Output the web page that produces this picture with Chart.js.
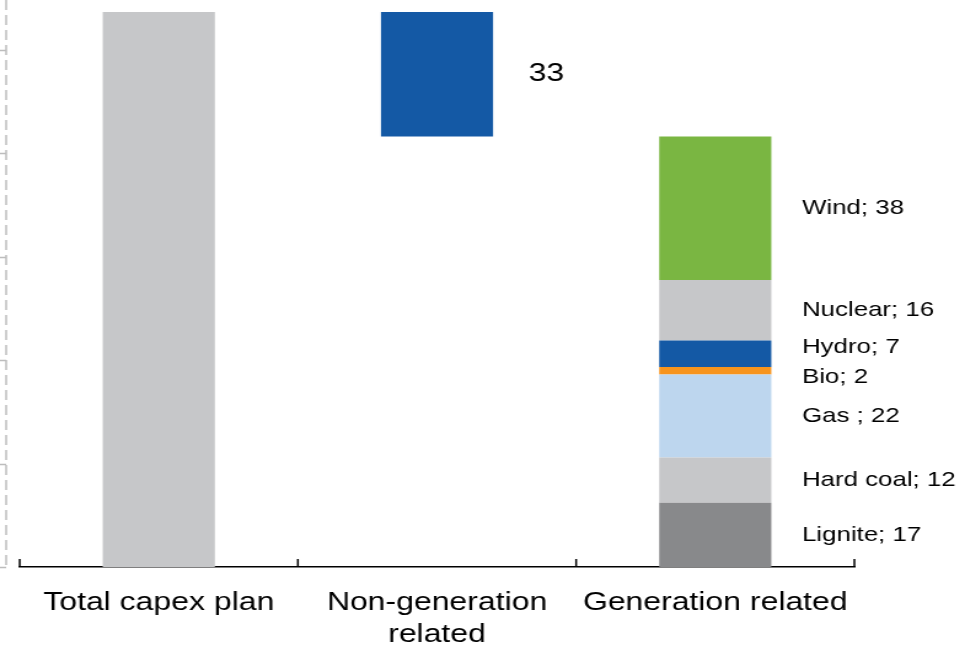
<!DOCTYPE html>
<html>
<head>
<meta charset="utf-8">
<script src="https://cdn.jsdelivr.net/npm/chart.js@4.4.1/dist/chart.umd.min.js"></script>
<style>
    html, body { margin: 0; padding: 0; background: #fff; }
</style>
</head>
<body>
<!-- the source picture is stretched sideways, so the canvas is drawn narrower and widened by css -->
<canvas id="capexChart" width="785" height="646" style="display:block;width:965px;height:646px"></canvas>
<script>
// categories on the x axis
const categories = ['Total capex plan', ['Non-generation', 'related'], 'Generation related'];

// capex split
const nonGenerationValue = 33;
const generationLabels = ['Lignite', 'Hard coal', 'Gas ', 'Bio', 'Hydro', 'Nuclear', 'Wind'];
const generationValues = [17, 12, 22, 2, 7, 16, 38];

// tick marks of the dashed axis on the left
const leftAxisTicks = [0, 27.4, 54.8, 82.2, 109.6, 137];

const generationColors = ['#88898b', '#c6c7c9', '#bdd6ee', '#f7941d', '#1459a5', '#c6c7c9', '#7ab642'];
const fontFamily = "'Liberation Sans', Arial, Helvetica, sans-serif";

const generationTotal = generationValues.reduce((a, b) => a + b, 0);
const totalValue = generationTotal + nonGenerationValue;

const datasets = [
    {
        label: 'Total capex plan',
        data: [totalValue, null, null],
        backgroundColor: '#c6c7c9'
    },
    {
        label: 'base',
        data: [null, generationTotal, null],
        backgroundColor: 'rgba(0,0,0,0)'
    },
    {
        label: 'Non-generation related',
        data: [null, nonGenerationValue, null],
        backgroundColor: '#1459a5'
    }
];
generationLabels.forEach(function (name, i) {
    datasets.push({
        label: name,
        data: [null, null, generationValues[i]],
        backgroundColor: generationColors[i],
        isGeneration: true
    });
});

// axis decorations and value labels
const decorations = {
    id: 'decorations',
    afterDatasetsDraw(chart) {
        const { ctx, chartArea, scales: { x, y } } = chart;
        ctx.save();

        // dashed left axis
        const axisX = 5;
        ctx.strokeStyle = '#bdbdbd';
        ctx.lineWidth = 1.5;
        ctx.setLineDash([10, 5]);
        ctx.beginPath();
        ctx.moveTo(axisX, 0);
        ctx.lineTo(axisX, chartArea.bottom);
        ctx.stroke();
        ctx.setLineDash([]);
        ctx.beginPath();
        leftAxisTicks.forEach(function (v) {
            const py = Math.round(y.getPixelForValue(v)) + 0.5;
            ctx.moveTo(0, py);
            ctx.lineTo(axisX, py);
        });
        ctx.stroke();

        // upward tick marks on the category axis
        const bounds = [x.left];
        for (let i = 0; i < categories.length - 1; i++) {
            bounds.push((x.getPixelForValue(i) + x.getPixelForValue(i + 1)) / 2);
        }
        bounds.push(x.right);
        ctx.strokeStyle = '#000';
        ctx.lineWidth = 1.5;
        ctx.beginPath();
        bounds.forEach(function (bx) {
            ctx.moveTo(bx, chartArea.bottom);
            ctx.lineTo(bx, chartArea.bottom - 8);
        });
        ctx.stroke();

        ctx.fillStyle = '#000';
        ctx.textAlign = 'left';
        ctx.textBaseline = 'middle';

        // non-generation value
        const ngBar = chart.getDatasetMeta(2).data[1];
        ctx.font = '26px ' + fontFamily;
        ctx.fillText(String(nonGenerationValue), ngBar.x + ngBar.width / 2 + 29, (ngBar.y + ngBar.base) / 2);

        // generation segment labels, spread apart where segments are thin
        const items = [];
        chart.data.datasets.forEach(function (ds, di) {
            if (!ds.isGeneration) return;
            const bar = chart.getDatasetMeta(di).data[2];
            items.push({
                text: ds.label + '; ' + ds.data[2],
                x: bar.x + bar.width / 2 + 25,
                y: (bar.y + bar.base) / 2
            });
        });
        const minGap = 30;
        for (let pass = 0; pass < 5; pass++) {
            for (let i = 1; i < items.length; i++) {
                const gap = items[i - 1].y - items[i].y;
                if (gap < minGap) {
                    const shift = (minGap - gap) / 2;
                    items[i - 1].y += shift;
                    items[i].y -= shift;
                }
            }
        }
        ctx.font = '21px ' + fontFamily;
        items.forEach(function (it) {
            ctx.fillText(it.text, it.x, it.y);
        });

        ctx.restore();
    }
};

const ctx = document.getElementById('capexChart').getContext('2d');
const capexChart = new Chart(ctx, {
    type: 'bar',
    data: {
        labels: categories,
        datasets: datasets
    },
    options: {
        responsive: false,
        devicePixelRatio: 1,
        animation: false,
        layout: {
            padding: { left: 16, right: 90, top: 12, bottom: -4 }
        },
        datasets: {
            bar: {
                barPercentage: 0.403,
                categoryPercentage: 1.0,
                borderWidth: 0
            }
        },
        scales: {
            x: {
                stacked: true,
                offset: true,
                grid: {
                    display: true,
                    drawOnChartArea: false,
                    drawTicks: true,
                    tickLength: 20.6,
                    color: 'rgba(0,0,0,0)'
                },
                border: {
                    display: true,
                    color: '#000',
                    width: 1.5
                },
                ticks: {
                    padding: 0,
                    color: '#000',
                    maxRotation: 0,
                    autoSkip: false,
                    font: {
                        family: fontFamily,
                        size: 26,
                        lineHeight: 1.2
                    }
                }
            },
            y: {
                stacked: true,
                display: false,
                min: 0,
                max: totalValue
            }
        },
        plugins: {
            legend: { display: false },
            tooltip: { enabled: false }
        }
    },
    plugins: [decorations]
});
</script>
</body>
</html>
